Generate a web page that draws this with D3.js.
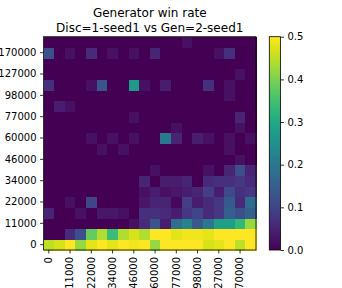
<!DOCTYPE html>
<html>
<head>
<meta charset="utf-8">
<script src="https://cdn.jsdelivr.net/npm/d3@7"></script>
<style>
  body { margin: 0; background: #fff; }
  text { font-family: "DejaVu Sans", sans-serif; }
</style>
</head>
<body>
<div id="container"></div>
<script>
/* DATA */
const titleLines = ["Generator win rate", "Disc=1-seed1 vs Gen=2-seed1"];
// tick labels shown on every second cell
const stepLabels = ["0", "11000", "22000", "34000", "46000", "60000", "77000", "98000", "127000", "170000"];
const colorTicks = [0, 0.1, 0.2, 0.3, 0.4, 0.5];

// win rate per cell, rows from the bottom (gen step 0) to top
const winRate = [
  [0.45, 0.47, 0.5, 0.42, 0.48, 0.5, 0.48, 0.5, 0.49, 0.5, 0.42, 0.5, 0.5, 0.5, 0.5, 0.47, 0.48, 0.5, 0.45, 0.5],
  [0, 0, 0.06, 0.12, 0.38, 0.44, 0.34, 0.44, 0.47, 0.44, 0.5, 0.5, 0.48, 0.49, 0.49, 0.48, 0.5, 0.5, 0.5, 0.5],
  [0, 0, 0, 0, 0, 0, 0, 0, 0.02, 0.06, 0.13, 0.04, 0.18, 0.22, 0.14, 0.2, 0.28, 0.28, 0.33, 0.42],
  [0.05, 0, 0, 0.02, 0, 0.03, 0.03, 0.02, 0, 0.07, 0.07, 0.06, 0.04, 0.08, 0.1, 0.06, 0.08, 0.15, 0.12, 0.15],
  [0, 0, 0.02, 0, 0.1, 0, 0, 0, 0, 0.03, 0.05, 0.05, 0.01, 0.09, 0.04, 0.06, 0.08, 0.14, 0.06, 0.17],
  [0, 0, 0, 0, 0, 0, 0, 0, 0, 0.02, 0.04, 0.02, 0.03, 0.04, 0.05, 0.09, 0.04, 0.11, 0.07, 0.08],
  [0, 0, 0, 0, 0, 0, 0, 0, 0, 0.05, 0, 0.04, 0.04, 0.05, 0, 0.06, 0.07, 0.07, 0.08, 0.06],
  [0, 0, 0, 0, 0, 0, 0, 0, 0, 0, 0.02, 0, 0, 0, 0, 0.02, 0, 0.05, 0.12, 0.05],
  [0, 0, 0, 0, 0, 0, 0, 0, 0, 0, 0, 0, 0, 0, 0, 0, 0, 0, 0.02, 0],
  [0, 0, 0, 0, 0, 0.02, 0, 0.02, 0, 0, 0, 0, 0, 0, 0, 0, 0, 0.02, 0, 0],
  [0, 0, 0, 0, 0.02, 0, 0.02, 0, 0.02, 0, 0, 0.2, 0.05, 0, 0.04, 0.02, 0, 0.02, 0, 0.02],
  [0, 0, 0, 0, 0, 0, 0, 0, 0, 0, 0, 0, 0.02, 0, 0, 0, 0, 0, 0.02, 0],
  [0, 0, 0, 0, 0, 0, 0, 0, 0.02, 0, 0, 0, 0, 0, 0, 0, 0, 0, 0.05, 0],
  [0, 0.04, 0.02, 0, 0, 0, 0, 0, 0, 0, 0, 0, 0, 0, 0, 0, 0, 0, 0, 0],
  [0, 0, 0, 0, 0, 0, 0, 0, 0, 0, 0, 0, 0, 0, 0, 0, 0, 0.02, 0, 0],
  [0.07, 0, 0, 0, 0.02, 0.13, 0, 0, 0.27, 0.02, 0, 0.04, 0, 0, 0, 0.07, 0, 0.02, 0, 0],
  [0, 0, 0, 0, 0, 0, 0, 0, 0, 0, 0, 0, 0, 0, 0, 0, 0, 0, 0.02, 0],
  [0, 0, 0, 0, 0, 0, 0, 0, 0, 0, 0, 0, 0, 0, 0, 0, 0, 0, 0, 0],
  [0.12, 0, 0.02, 0, 0.06, 0, 0.02, 0, 0.02, 0, 0.05, 0, 0, 0, 0, 0, 0.02, 0.07, 0, 0],
  [0, 0, 0, 0, 0, 0, 0, 0, 0, 0, 0, 0, 0, 0.02, 0, 0, 0, 0, 0, 0]
];

/* CONSTANTS */
const width = 342, height = 288;
const plot = { left: 43.5, right: 256, top: 36.7, bottom: 250 };
const bar = { left: 269.3, right: 280.5 };

const cells = [];
winRate.forEach((row, r) => row.forEach((v, c) => cells.push({ r, c, v })));
const idx = d3.range(winRate.length);

/* SCALES */
const xScale = d3.scaleBand().domain(idx).range([plot.left, plot.right]);
const yScale = d3.scaleBand().domain(idx).range([plot.bottom, plot.top]);
const color = d3.scaleSequential(d3.interpolateViridis).domain([0, 0.5]);
const cScale = d3.scaleLinear().domain([0, 0.5]).range([plot.bottom, plot.top]);

const svg = d3.select("#container")
  .append("svg")
  .attr("width", width)
  .attr("height", height);

// TITLE
svg.append("g")
  .selectAll("text")
  .data(titleLines)
  .join("text")
  .attr("x", (plot.left + plot.right) / 2)
  .attr("y", (d, i) => 17 + i * 14.5)
  .attr("text-anchor", "middle")
  .attr("font-size", 12)
  .text(d => d);

// CELLS - crisp edges so no seams show between them
svg.append("g")
  .attr("shape-rendering", "crispEdges")
  .selectAll("rect")
  .data(cells)
  .join("rect")
  .attr("x", d => xScale(d.c))
  .attr("y", d => yScale(d.r))
  .attr("width", xScale.bandwidth() + 0.5)
  .attr("height", yScale.bandwidth() + 0.5)
  .attr("fill", d => color(d.v));

// AXES
const tickIdx = idx.filter(i => i % 2 === 0);
const labelOf = i => stepLabels[i / 2];

const xAxis = d3.axisBottom(xScale).tickValues(tickIdx).tickFormat(labelOf).tickSize(3.5).tickPadding(3.5);
const yAxis = d3.axisLeft(yScale).tickValues(tickIdx).tickFormat(labelOf).tickSize(3.5).tickPadding(3.5);

const xAxisGroup = svg.append("g")
  .attr("transform", `translate(0, ${plot.bottom})`)
  .call(xAxis);
xAxisGroup.selectAll("text")
  .attr("transform", "rotate(-90)")
  .attr("text-anchor", "end")
  .attr("x", -7)
  .attr("y", 0)
  .attr("dy", "0.32em");

const yAxisGroup = svg.append("g")
  .attr("transform", `translate(${plot.left}, 0)`)
  .call(yAxis);

[xAxisGroup, yAxisGroup].forEach(g => {
  g.select(".domain").remove();
  g.selectAll("line").attr("stroke", "#000").attr("stroke-width", 0.8);
  g.selectAll("text").attr("font-size", 10).attr("fill", "#000")
    .style("font-family", "'DejaVu Sans', sans-serif");
});

svg.append("rect")
  .attr("x", plot.left)
  .attr("y", plot.top)
  .attr("width", plot.right - plot.left)
  .attr("height", plot.bottom - plot.top)
  .attr("fill", "none")
  .attr("stroke", "#000")
  .attr("stroke-width", 0.8);

// COLORBAR
const grad = svg.append("defs").append("linearGradient")
  .attr("id", "viridis")
  .attr("x1", 0).attr("y1", 1).attr("x2", 0).attr("y2", 0);
grad.selectAll("stop")
  .data(d3.range(0, 1.001, 0.05))
  .join("stop")
  .attr("offset", d => d)
  .attr("stop-color", d => color(d * 0.5));

svg.append("rect")
  .attr("x", bar.left)
  .attr("y", plot.top)
  .attr("width", bar.right - bar.left)
  .attr("height", plot.bottom - plot.top)
  .attr("fill", "url(#viridis)")
  .attr("stroke", "#000")
  .attr("stroke-width", 0.8);

const cAxisGroup = svg.append("g")
  .attr("transform", `translate(${bar.right}, 0)`)
  .call(d3.axisRight(cScale).tickValues(colorTicks).tickFormat(d3.format(".1f")).tickSize(3.5).tickPadding(3.5));
cAxisGroup.select(".domain").remove();
cAxisGroup.selectAll("line").attr("stroke", "#000").attr("stroke-width", 0.8);
cAxisGroup.selectAll("text").attr("font-size", 10).attr("fill", "#000")
  .style("font-family", "'DejaVu Sans', sans-serif");
</script>
</body>
</html>
